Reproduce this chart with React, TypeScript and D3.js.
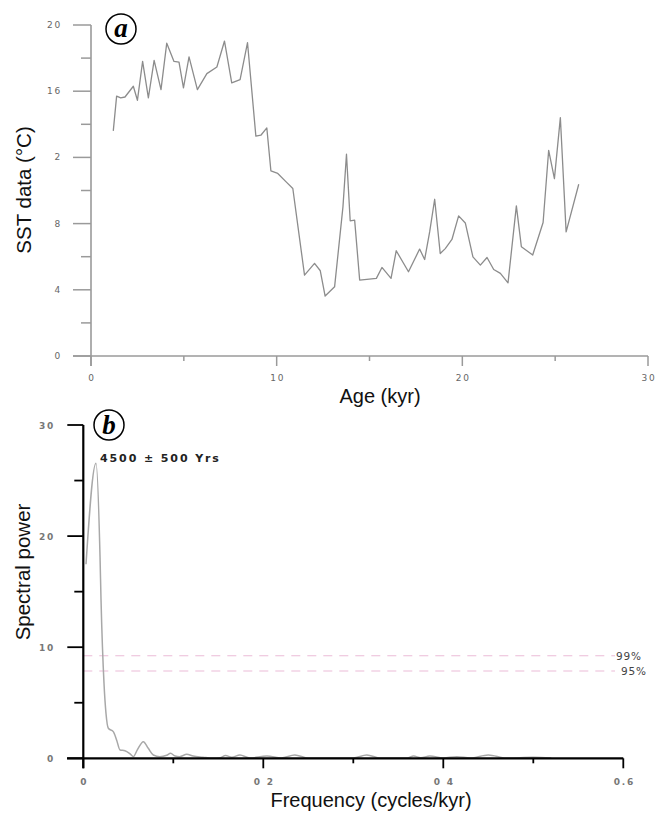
import React from "react";
import * as d3 from "d3";

// panel a: SST record
const ages = [1.2, 1.38, 1.6, 1.83, 2.28, 2.5, 2.78, 3.09, 3.4, 3.77, 4.08, 4.47, 4.74, 4.98, 5.28, 5.73, 6.24, 6.78, 7.19, 7.58, 8.03, 8.43, 8.88, 9.15, 9.47, 9.69, 10.06, 10.51, 10.87, 11.5, 12.04, 12.35, 12.61, 13.12, 13.57, 13.76, 13.96, 14.2, 14.47, 15.37, 15.67, 16.16, 16.44, 17.1, 17.7, 17.97, 18.24, 18.51, 18.81, 19.08, 19.44, 19.8, 20.16, 20.57, 20.97, 21.33, 21.69, 22.05, 22.46, 22.91, 23.18, 23.79, 24.35, 24.65, 24.96, 25.28, 25.59, 26.27];
const sst = [13.6, 15.7, 15.6, 15.65, 16.3, 15.45, 17.8, 15.6, 17.86, 16.1, 18.9, 17.8, 17.76, 16.2, 18.07, 16.1, 17.06, 17.46, 19.03, 16.5, 16.7, 18.93, 13.28, 13.34, 13.78, 11.18, 11.03, 10.52, 10.12, 4.89, 5.6, 5.15, 3.62, 4.18, 9.01, 12.19, 8.17, 8.21, 4.59, 4.69, 5.35, 4.69, 6.36, 5.09, 6.46, 5.83, 7.5, 9.47, 6.19, 6.49, 7.04, 8.47, 8.04, 5.99, 5.49, 5.95, 5.23, 4.99, 4.42, 9.07, 6.6, 6.1, 8.07, 12.43, 10.72, 14.4, 7.5, 10.38];
const sstTicks = [0, 2, 4, 6, 8, 10, 12, 14, 16, 18, 20];
const sstTickLabels: Record<number, string> = { 0: "0", 4: "4", 8: "8", 12: "2", 16: "16", 20: "20" };
const ageTicks = [0, 5, 10, 15, 20, 25, 30];
const ageTickLabels: Record<number, string> = { 0: "0", 10: "10", 20: "20", 30: "30" };

// panel b: spectrum
const freq = [0.003, 0.0141, 0.0186, 0.0197, 0.023, 0.0252, 0.0278, 0.0333, 0.037, 0.0408, 0.0463, 0.052, 0.0556, 0.06, 0.0667, 0.0722, 0.0778, 0.085, 0.0927, 0.097, 0.102, 0.107, 0.115, 0.122, 0.133, 0.143, 0.152, 0.158, 0.165, 0.174, 0.185, 0.204, 0.22, 0.235, 0.25, 0.3, 0.315, 0.33, 0.36, 0.367, 0.375, 0.385, 0.4, 0.415, 0.43, 0.45, 0.47, 0.5, 0.52];
const power = [17.46, 26.55, 18.1, 14.25, 6.75, 4.05, 2.7, 2.4, 1.65, 0.75, 0.68, 0.39, 0.15, 0.75, 1.5, 0.9, 0.3, 0.15, 0.27, 0.45, 0.2, 0.15, 0.36, 0.2, 0.1, 0.02, 0.05, 0.25, 0.1, 0.3, 0.03, 0.2, 0.03, 0.3, 0.02, 0.03, 0.3, 0.02, 0.03, 0.2, 0.05, 0.2, 0.02, 0.15, 0.02, 0.3, 0.02, 0.1, 0.02];
const powerTicks = [0, 5, 10, 15, 20, 25, 30];
const freqTicks = [0, 0.1, 0.2, 0.3, 0.4, 0.5, 0.6];
const freqTickLabels: Record<string, string> = { "0": "0", "0.2": "0 2", "0.4": "0 4", "0.6": "0.6" };
const confLevels = [9.23, 7.86];
const confLabels = ["99%", "95%"];

const tickFont = "'DejaVu Sans', sans-serif";
const titleFont = "'Liberation Sans', Arial, sans-serif";

function PanelA() {
  const x = d3.scaleLinear().domain([0, 30]).range([91, 648]);
  const y = d3.scaleLinear().domain([0, 20]).range([356, 25]);
  const line = d3.line<number>().x((_, i) => x(ages[i])).y((d) => y(d));
  const axisColor = "#9a9a9a";
  return (
    <g>
      <line x1={73} x2={648} y1={y(0)} y2={y(0)} stroke={axisColor} strokeWidth={1.6} />
      <line x1={x(0)} x2={x(0)} y1={y(20)} y2={y(0) + 10} stroke={axisColor} strokeWidth={1.6} />
      {sstTicks.map((t) => {
        const major = sstTickLabels[t] !== undefined;
        return (
          <g key={t}>
            <line x1={x(0) - (major ? 18 : 10)} x2={x(0)} y1={y(t)} y2={y(t)} stroke={axisColor} strokeWidth={1.5} />
            {major && (
              <text x={62} y={y(t) + 3} textAnchor="end" fontFamily={tickFont} fontSize={9} fill="#666" letterSpacing={1.8}>
                {sstTickLabels[t]}
              </text>
            )}
          </g>
        );
      })}
      {ageTicks.map((t) => {
        const major = ageTickLabels[t] !== undefined;
        return (
          <g key={t}>
            <line x1={x(t)} x2={x(t)} y1={y(0)} y2={y(0) + (major ? 10 : 5)} stroke={axisColor} strokeWidth={1.5} />
            {major && (
              <text x={x(t) + 1} y={381} textAnchor="middle" fontFamily={tickFont} fontSize={9} fill="#666" letterSpacing={1.8}>
                {ageTickLabels[t]}
              </text>
            )}
          </g>
        );
      })}
      <path d={line(sst) || ""} fill="none" stroke="#8c8c8c" strokeWidth={1.3} strokeLinejoin="round" />
      <text x={380} y={403} textAnchor="middle" fontFamily={titleFont} fontSize={20} fill="#111">Age (kyr)</text>
      <text transform="translate(31,190) rotate(-90)" textAnchor="middle" fontFamily={titleFont} fontSize={20.5} fill="#111">SST data (°C)</text>
      <circle cx={121} cy={29} r={15} fill="#fff" stroke="#000" strokeWidth={1.5} />
      <text x={121} y={37} textAnchor="middle" fontFamily="'Liberation Serif', serif" fontStyle="italic" fontWeight="bold" fontSize={27}>a</text>
    </g>
  );
}

function PanelB() {
  const x = d3.scaleLinear().domain([0, 0.6]).range([83.3, 623.3]);
  const y = d3.scaleLinear().domain([0, 30]).range([758.3, 425]);
  const line = d3.line<number>().x((_, i) => x(freq[i])).y((d) => y(d)).curve(d3.curveMonotoneX);
  return (
    <g>
      {confLevels.map((c, i) => (
        <g key={i}>
          <line x1={x(0)} x2={615} y1={y(c)} y2={y(c)} stroke="#ebbcd8" strokeWidth={1.2} strokeDasharray="9 7" />
          <text x={i === 0 ? 616 : 621} y={y(c) + 4} fontFamily={tickFont} fontSize={10.5} fill="#444" letterSpacing={0.8}>
            {confLabels[i]}
          </text>
        </g>
      ))}
      <path d={line(power) || ""} fill="none" stroke="#a8a8a8" strokeWidth={1.5} />
      <line x1={67} x2={x(0.6)} y1={y(0)} y2={y(0)} stroke="#000" strokeWidth={2.2} />
      <line x1={x(0)} x2={x(0)} y1={y(30)} y2={y(0) + 10} stroke="#000" strokeWidth={2.2} />
      {powerTicks.map((t) => {
        const major = t % 10 === 0;
        return (
          <g key={t}>
            <line x1={x(0) - (major ? 16 : 9)} x2={x(0)} y1={y(t)} y2={y(t)} stroke="#000" strokeWidth={1.8} />
            {major && (
              <text x={55} y={y(t) + 4} textAnchor="end" fontFamily={tickFont} fontWeight="bold" fontSize={9} fill="#777" letterSpacing={1.8}>
                {t}
              </text>
            )}
          </g>
        );
      })}
      {freqTicks.map((t) => {
        const key = String(Math.round(t * 10) / 10);
        const lab = freqTickLabels[key];
        return (
          <g key={key}>
            <line x1={x(t)} x2={x(t)} y1={y(0)} y2={y(0) + (lab !== undefined ? 10 : 5)} stroke="#000" strokeWidth={1.8} />
            {lab !== undefined && (
              <text x={x(t) + 1} y={785} textAnchor="middle" fontFamily={tickFont} fontWeight="bold" fontSize={9} fill="#777" letterSpacing={1.8}>
                {lab}
              </text>
            )}
          </g>
        );
      })}
      <text x={100} y={462} fontFamily={tickFont} fontWeight="bold" fontSize={11} fill="#222" letterSpacing={1.9}>4500 ± 500 Yrs</text>
      <text x={371} y={807} textAnchor="middle" fontFamily={titleFont} fontSize={20} fill="#111">Frequency (cycles/kyr)</text>
      <text transform="translate(30,572) rotate(-90)" textAnchor="middle" fontFamily={titleFont} fontSize={20.5} fill="#111">Spectral power</text>
      <circle cx={109} cy={425} r={15} fill="#fff" stroke="#000" strokeWidth={1.5} />
      <text x={109} y={434} textAnchor="middle" fontFamily="'Liberation Serif', serif" fontStyle="italic" fontWeight="bold" fontSize={27}>b</text>
    </g>
  );
}

export default function App() {
  return (
    <svg width={656} height={817} style={{ position: "absolute", left: 0, top: 0, background: "#fff" }}>
      <PanelA />
      <PanelB />
    </svg>
  );
}
